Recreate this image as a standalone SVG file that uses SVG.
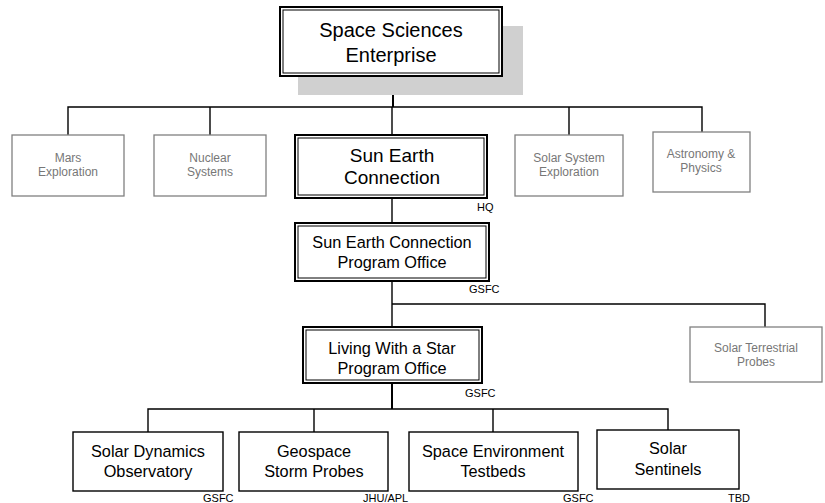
<svg xmlns="http://www.w3.org/2000/svg" width="825" height="503" viewBox="0 0 825 503">
<style>
text{font-family:"Liberation Sans",Arial,sans-serif;text-anchor:middle;fill:#000}
.big{font-size:20px}
.mid{font-size:19px}
.med{font-size:16.3px}
.gray{font-size:12px;fill:#777}
.lab{font-size:11px;text-anchor:start}
.outer{fill:#fff;stroke:#000;stroke-width:2}
.inner{fill:none;stroke:#000;stroke-width:1}
.box{fill:#fff;stroke:#000;stroke-width:1.4}
.gbox{fill:#fff;stroke:#808080;stroke-width:1.3}
.conn{fill:none;stroke:#000;stroke-width:1.4}
.thick{stroke-width:2}
</style>
<rect x="0" y="0" width="825" height="503" fill="#fff"/>
<g id="connectors">
<path class="conn thick" d="M393 76V107"/>
<path class="conn" d="M68 135V107H702V132M210 107V135M392 107V135M569 107V135"/>
<path class="conn" d="M392 198V223"/>
<path class="conn" d="M392 281V327M392 304H765V327"/>
<path class="conn thick" d="M392 383V409"/>
<path class="conn" d="M148 432V409H668V430M314 409V432M493 409V432"/>
</g>
<g id="space-sciences">
<rect x="298" y="26" width="225" height="69" fill="#d0d0d0"/>
<rect class="outer" x="280" y="7" width="222" height="69"/>
<rect class="inner" x="283" y="10" width="216" height="63"/>
<text class="big" x="391" y="37">Space Sciences</text>
<text class="big" x="391" y="62">Enterprise</text>
</g>
<g id="mars">
<rect class="gbox" x="12" y="135" width="112" height="61"/>
<text class="gray" x="68" y="161.5">Mars</text>
<text class="gray" x="68" y="175.5">Exploration</text>
</g>
<g id="nuclear">
<rect class="gbox" x="154" y="135" width="112" height="61"/>
<text class="gray" x="210" y="161.5">Nuclear</text>
<text class="gray" x="210" y="175.5">Systems</text>
</g>
<g id="sun-earth-connection">
<rect class="outer" x="295" y="135" width="192" height="63"/>
<rect class="inner" x="298" y="138" width="186" height="57"/>
<text class="mid" x="392" y="162">Sun Earth</text>
<text class="mid" x="392" y="184">Connection</text>
<text class="lab" x="477" y="211">HQ</text>
</g>
<g id="solar-system">
<rect class="gbox" x="515" y="135" width="108" height="61"/>
<text class="gray" x="569" y="161.5">Solar System</text>
<text class="gray" x="569" y="175.5">Exploration</text>
</g>
<g id="astronomy">
<rect class="gbox" x="653" y="132" width="97" height="60"/>
<text class="gray" x="701" y="158">Astronomy &amp;</text>
<text class="gray" x="701" y="172">Physics</text>
</g>
<g id="sec-program-office">
<rect class="outer" x="295" y="223" width="194" height="58"/>
<rect class="inner" x="298" y="226" width="188" height="52"/>
<text class="med" x="392" y="248">Sun Earth Connection</text>
<text class="med" x="392" y="268">Program Office</text>
<text class="lab" x="469" y="293">GSFC</text>
</g>
<g id="solar-terrestrial">
<rect class="gbox" x="690" y="327" width="132" height="55"/>
<text class="gray" x="756" y="352">Solar Terrestrial</text>
<text class="gray" x="756" y="366">Probes</text>
</g>
<g id="lws-program-office">
<rect class="outer" x="303" y="327" width="179" height="56"/>
<rect class="inner" x="306" y="330" width="173" height="50"/>
<text class="med" x="392" y="354">Living With a Star</text>
<text class="med" x="392" y="374">Program Office</text>
<text class="lab" x="465" y="397">GSFC</text>
</g>
<g id="sdo">
<rect class="box" x="73" y="432" width="150" height="59"/>
<text class="med" x="148" y="457">Solar Dynamics</text>
<text class="med" x="148" y="477">Observatory</text>
<text class="lab" x="203" y="502">GSFC</text>
</g>
<g id="geospace">
<rect class="box" x="239" y="432" width="149" height="59"/>
<text class="med" x="314" y="457">Geospace</text>
<text class="med" x="314" y="477">Storm Probes</text>
<text class="lab" x="363" y="502">JHU/APL</text>
</g>
<g id="space-environment">
<rect class="box" x="409" y="432" width="169" height="59"/>
<text class="med" x="493" y="457">Space Environment</text>
<text class="med" x="493" y="477">Testbeds</text>
<text class="lab" x="563" y="502">GSFC</text>
</g>
<g id="solar-sentinels">
<rect class="box" x="597" y="430" width="142" height="59"/>
<text class="med" x="668" y="454">Solar</text>
<text class="med" x="668" y="475">Sentinels</text>
<text class="lab" x="728" y="502">TBD</text>
</g>
</svg>
